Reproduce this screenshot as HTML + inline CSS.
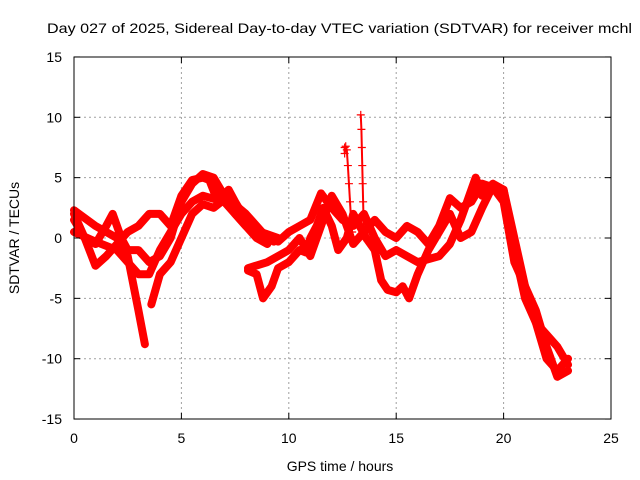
<!DOCTYPE html>
<html><head><meta charset="utf-8"><style>
body{margin:0;background:#fff}
svg{display:block;font-family:"Liberation Sans",sans-serif;font-size:14px}
</style></head><body>
<svg id="chart" width="640" height="480">
<text x="47" y="33" textLength="585" lengthAdjust="spacingAndGlyphs">Day 027 of 2025, Sidereal Day-to-day VTEC variation (SDTVAR) for receiver mchl</text>
<g id="grid"></g>
<g id="series"></g>
<rect x="74" y="57" width="537" height="362" fill="none" stroke="#000" stroke-width="1"/>
<g id="ticks"></g>
<text x="340" y="471" text-anchor="middle">GPS time / hours</text>
<text transform="translate(19,238) rotate(-90)" text-anchor="middle">SDTVAR / TECUs</text>
</svg>
<script>
const xTicks=[0,5,10,15,20,25];
const yTicks=[-15,-10,-5,0,5,10,15];
const s1t=[0,1,2,2.5,3,3.3];
const s1v=[2.3,1,0,-1.5,-6,-8.8];
const s2t=[0,0.5,1,1.5,1.8,2.2,2.5,3,3.5,4,4.5,5,5.5,6,6.5,7,8,9,9.3];
const s2v=[2,0,-0.5,1,2,0,-1,-1,-2,-1.5,0,3,4.5,5.3,5,3.5,2,0,-0.3];
const s3t=[0,0.5,1,1.5,2,2.5,3,3.5,4,4.5,5,5.5,6,6.3,6.7,7.2,7.5,8,8.5,9];
const s3v=[1.5,0,-2.3,-1.5,-0.5,0.5,1,2,2,1,3.5,4.8,5,4.8,3,4,3,1.5,0.5,0.3];
const s4t=[0,1,2,3,3.5,4,4.5,5,5.5,6,7,8,8.5,9];
const s4v=[0.5,-0.3,-1,-3,-3,-1,0.5,2,3,3.5,3,1,0,-0.5];
const s5t=[3.6,4,4.5,5,5.5,6,6.5,7,7.5,8,8.7,9.5];
const s5v=[-5.5,-3,-2,0,2,2.8,2.5,3.2,2,1,0.5,0];
const s6t=[8.1,8.5,8.8,9.2,9.5,10,10.5,10.8,11,11.3,11.6,12,12.3,12.7,13,13.3,13.6,14,14.3,14.6,15,15.3,15.6,16,16.5,17,17.5,18,18.5,19,19.5,20,20.5,21,21.5,22,22.5,23];
const s6v=[-2.7,-3,-5,-4,-2.5,-2,-1,-1.2,0,1,2.5,1,-1,0,2,1,0,-1,-3.5,-4.3,-4.5,-4,-5,-3,-1,0.5,2,0,0.5,2.5,4.3,4,-1,-5,-7,-8,-9,-10.5];
const s7t=[8.1,9,10,10.5,11,11.5,12,12.5,13,13.5,14,14.5,15,15.5,16,16.5,17,17.5,18,18.5,19,19.5,20,20.5,21,21.5,22,22.5,23];
const s7v=[-2.5,-2,-1,0,-1.5,1,3.5,2,-0.5,0.5,1.5,0.5,0,1,0.5,-0.5,1,3.3,2.5,3,4.5,4.2,3,-2,-4,-6,-9,-11.5,-11];
const s8t=[9.5,10,10.5,11,11.5,12,12.5,13,13.5,14,14.5,15,15.5,16,17,17.5,18,18.7,19,19.5,20,20.5,21,21.5,22,22.5,23];
const s8v=[-0.3,0.5,1,1.5,3.7,2.5,1.5,1,2,0,-1.5,-1,-1.5,-2,-1.5,-0.5,1.5,5,3.5,4.5,4,0,-4,-7,-10,-11,-10];
const spikeAt=[12.6,12.6,12.65,12.7,12.75,12.8,12.85,12.9,12.95,13.0];
const spikeAv=[7.5,7.0,7.6,7.3,6,4.5,3,1.5,0.5,0];
const spikeBt=[13.35,13.38,13.4,13.42,13.44,13.46,13.48,13.5,13.52];
const spikeBv=[10.2,9,7.5,6,4.5,3,1.5,0.5,0];
const X=t=>74+t*21.48, Y=v=>238-v*12.07;
const NS="http://www.w3.org/2000/svg";
const grid=document.getElementById('grid'),ticks=document.getElementById('ticks'),ser=document.getElementById('series');
function mk(tag,at,parent){const e=document.createElementNS(NS,tag);for(const k in at)e.setAttribute(k,at[k]);parent.appendChild(e);return e;}
xTicks.forEach(t=>{
 if(t>0&&t<25){const g=mk('line',{x1:X(t),x2:X(t),y1:57,y2:419,stroke:'#a0a0a0','stroke-dasharray':'2,3'},grid);
 
 }
 const l=mk('text',{x:X(t),y:443,'text-anchor':'middle'},ticks);l.textContent=t;
 
 
 mk('line',{x1:X(t),x2:X(t),y1:419,y2:413,stroke:'#000'},ticks);
 mk('line',{x1:X(t),x2:X(t),y1:57,y2:63,stroke:'#000'},ticks);
});
yTicks.forEach(v=>{
 if(v>-15&&v<15){const g=mk('line',{x1:74,x2:611,y1:Y(v),y2:Y(v),stroke:'#a0a0a0','stroke-dasharray':'2,3'},grid);
 
 }
 const l=mk('text',{x:62,y:Y(v)+5,'text-anchor':'end'},ticks);l.textContent=v;
 
 
 mk('line',{x1:74,x2:80,y1:Y(v),y2:Y(v),stroke:'#000'},ticks);
 mk('line',{x1:611,x2:605,y1:Y(v),y2:Y(v),stroke:'#000'},ticks);
});
const all=[[s1t,s1v],[s2t,s2v],[s3t,s3v],[s4t,s4v],[s5t,s5v],[s6t,s6v],[s7t,s7v],[s8t,s8v]];
all.forEach((s,i)=>{
 const p=mk('polyline',{points:s[0].map((t,j)=>X(t)+','+Y(s[1][j])).join(' '),fill:'none',stroke:'#f00','stroke-width':8,'stroke-linejoin':'round','stroke-linecap':'round'},ser);
 
 
});
[[spikeAt,spikeAv],[spikeBt,spikeBv]].forEach((s,i)=>{
 const p=mk('polyline',{points:s[0].map((t,j)=>X(t)+','+Y(s[1][j])).join(' '),fill:'none',stroke:'#f00','stroke-width':2},ser);
 
 
 s[0].forEach((t,j)=>{
  const x=X(t),y=Y(s[1][j]);
  const m=mk('path',{d:`M${x-4},${y}H${x+4}M${x},${y-4}V${y+4}`,stroke:'#f00','stroke-width':1.2},ser);
  
  
 });
});
</script>
</body></html>
